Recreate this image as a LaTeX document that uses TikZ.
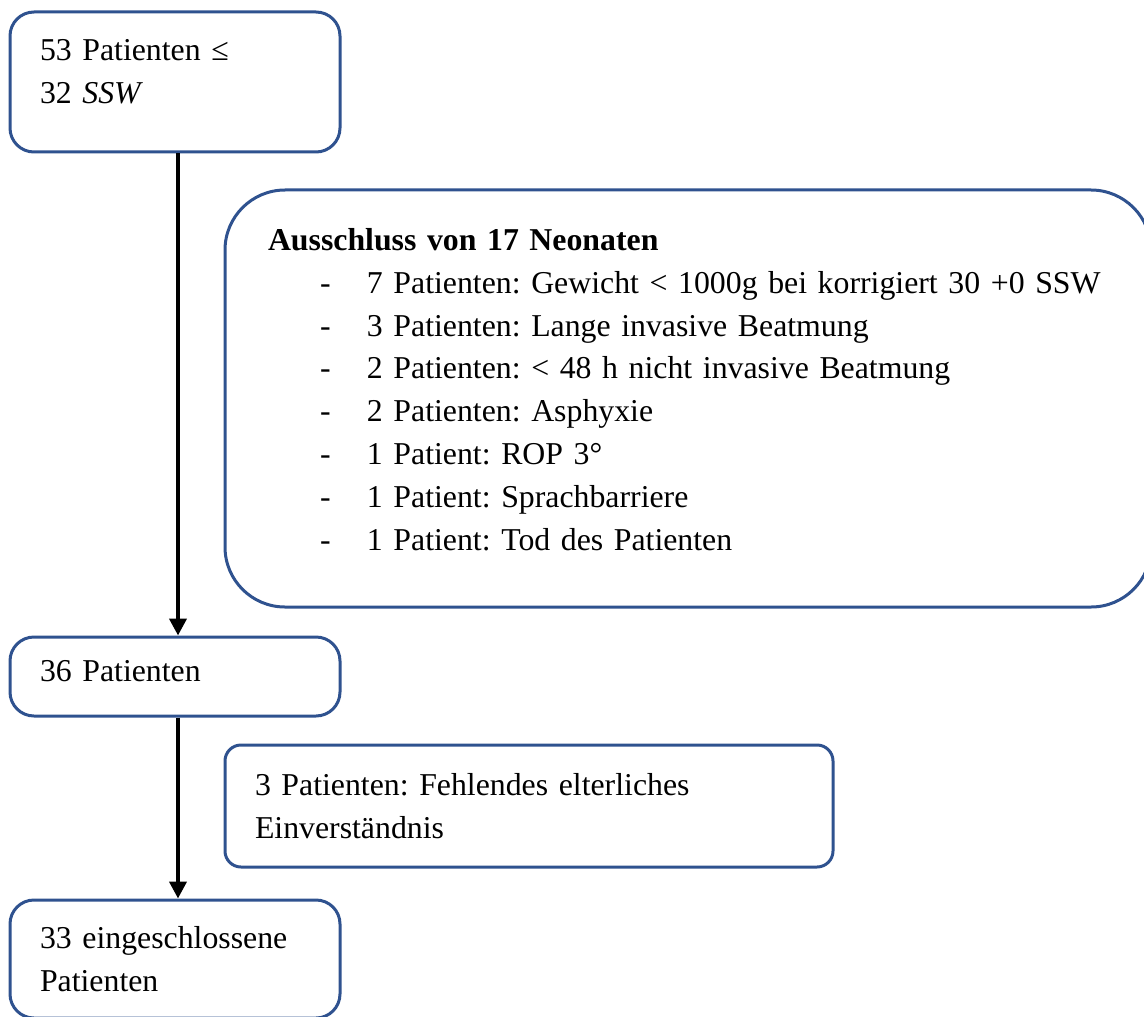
\documentclass[tikz,border=0pt]{standalone}
\usepackage{fontspec}
\setmainfont{Liberation Serif}
\usepackage{xcolor}
\usetikzlibrary{arrows.meta, positioning}

\definecolor{boxblue}{RGB}{47,82,143}
\newcommand{\grund}[1]{\hspace*{26pt}\makebox[23.5pt][l]{-}\mbox{#1}}

\tikzset{
  patbox/.style={draw=boxblue, line width=1.5pt, rounded corners=#1, align=left, inner xsep=15pt, inner ysep=0pt, font=\fontsize{15.9pt}{21.4pt}\selectfont\frenchspacing},
  patbox/.default=12pt,
  lift/.style={execute at end node={\par\vspace{#1}}},
  flow/.style={black, line width=2pt, -{Triangle[width=8.5pt,length=8.5pt]}}
}

\begin{document}
\begin{tikzpicture}[x=0.5pt, y=-0.5pt]
  \useasboundingbox (0, 0) rectangle (1144, 1016);
  \node[patbox, minimum width=165pt, minimum height=70pt, text width=135pt, lift=10pt] (start) at (175, 82) {53 Patienten ≤\\32 \textit{SSW}};
  \node[patbox=30pt, minimum width=463pt, minimum height=208.5pt, text width=420pt, inner xsep=21.5pt, lift=9pt] (excl) at (688, 398.5) {\textbf{Ausschluss von 17 Neonaten}\\
    \grund{7 Patienten: Gewicht < 1000g bei korrigiert 30 +0 SSW}\\
    \grund{3 Patienten: Lange invasive Beatmung}\\
    \grund{2 Patienten: < 48 h nicht invasive Beatmung}\\
    \grund{2 Patienten: Asphyxie}\\
    \grund{1 Patient: ROP 3°}\\
    \grund{1 Patient: Sprachbarriere}\\
    \grund{1 Patient: Tod des Patienten}};
  \node[patbox, minimum width=165pt, minimum height=39.5pt, text width=135pt, lift=5.5pt] (mid) at (175, 676.5) {36 Patienten};
  \node[patbox=8pt, minimum width=304pt, minimum height=61pt, text width=274pt] (elter) at (529, 806) {3 Patienten: Fehlendes elterliches\\Einverständnis};
  \node[patbox, minimum width=165pt, minimum height=59pt, text width=135pt] (final) at (175, 959) {33 eingeschlossene\\Patienten};
  \draw[flow] ([xshift=1.5pt]start.south) -- ([xshift=1.5pt]mid.north);
  \draw[flow] ([xshift=1.5pt]mid.south) -- ([xshift=1.5pt]final.north);
\end{tikzpicture}
\end{document}
